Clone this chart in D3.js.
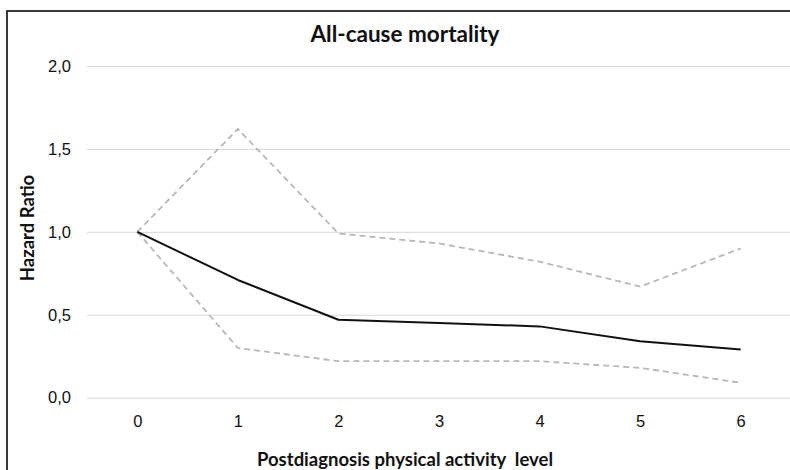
<!DOCTYPE html>
<html>
<head>
<meta charset="utf-8">
<script src="https://cdn.jsdelivr.net/npm/d3@7"></script>
<style>
  html, body { margin: 0; padding: 0; background: #fff; }
  svg { display: block; font-family: Lato, "Open Sans", "Liberation Sans", sans-serif; }
</style>
</head>
<body>
<svg id="chart" width="790" height="470"></svg>
<script>
// Activity levels on the x axis
const levels = ["0", "1", "2", "3", "4", "5", "6"];
// Hazard ratio estimate and its 95% confidence bounds
const hazardRatio = [1.0, 0.71, 0.47, 0.45, 0.43, 0.34, 0.29];
const upperCI     = [1.0, 1.62, 0.99, 0.93, 0.82, 0.67, 0.90];
const lowerCI     = [1.0, 0.30, 0.22, 0.22, 0.22, 0.18, 0.09];
// Y axis ticks and their labels (decimal comma)
const yTicks = [0, 0.5, 1.0, 1.5, 2.0];
const yTickLabels = ["0,0", "0,5", "1,0", "1,5", "2,0"];

const svg = d3.select("#chart");

// Outer frame
svg.append("rect")
  .attr("x", 7).attr("y", 11)
  .attr("width", 800).attr("height", 480)
  .attr("fill", "none")
  .attr("stroke", "#3a3a3a")
  .attr("stroke-width", 2);

const plotLeft = 87, plotRight = 791;
const x = d3.scalePoint().domain(levels).range([plotLeft, plotRight]).padding(0.5);
const y = d3.scaleLinear().domain([0, 2]).range([397.7, 66]);

// Horizontal gridlines via the y axis
const yAxis = d3.axisLeft(y)
  .tickValues(yTicks)
  .tickSize(-(plotRight - plotLeft))
  .tickPadding(16)
  .tickFormat((d, i) => yTickLabels[i]);

const gy = svg.append("g")
  .attr("transform", `translate(${plotLeft},0)`)
  .call(yAxis);
gy.select(".domain").remove();
gy.selectAll(".tick line").attr("stroke", "#d9d9d9").attr("stroke-width", 1);
gy.selectAll(".tick text")
  .attr("font-size", 16.5)
  .attr("fill", "#111");

// X axis labels only
const xAxis = d3.axisBottom(x).tickSize(0).tickPadding(18);
const gx = svg.append("g")
  .attr("transform", `translate(0,${y(0)})`)
  .call(xAxis);
gx.select(".domain").remove();
gx.selectAll(".tick text")
  .attr("font-size", 16.5)
  .attr("fill", "#111");

const line = d3.line()
  .x((d, i) => x(levels[i]))
  .y(d => y(d));

// Confidence bounds (dashed)
[upperCI, lowerCI].forEach(s => {
  svg.append("path")
    .datum(s)
    .attr("d", line)
    .attr("fill", "none")
    .attr("stroke", "#b8b8b8")
    .attr("stroke-width", 1.8)
    .attr("stroke-dasharray", "6,4");
});

// Hazard ratio estimate
svg.append("path")
  .datum(hazardRatio)
  .attr("d", line)
  .attr("fill", "none")
  .attr("stroke", "#111")
  .attr("stroke-width", 2)
  .attr("stroke-linejoin", "round");

// Title
svg.append("text")
  .attr("x", 405).attr("y", 42)
  .attr("text-anchor", "middle")
  .attr("font-size", 22.5)
  .attr("font-weight", "bold")
  .attr("fill", "#111")
  .text("All-cause mortality");

// Y axis title
svg.append("text")
  .attr("transform", "translate(34,228) rotate(-90)")
  .attr("text-anchor", "middle")
  .attr("font-size", 18.5)
  .attr("font-weight", "bold")
  .attr("fill", "#111")
  .text("Hazard Ratio");

// X axis title
svg.append("text")
  .attr("x", 405).attr("y", 466)
  .attr("text-anchor", "middle")
  .attr("font-size", 18.5)
  .attr("font-weight", "bold")
  .attr("fill", "#111")
  .attr("xml:space", "preserve")
  .style("white-space", "pre")
  .text("Postdiagnosis physical activity  level");
</script>
</body>
</html>
